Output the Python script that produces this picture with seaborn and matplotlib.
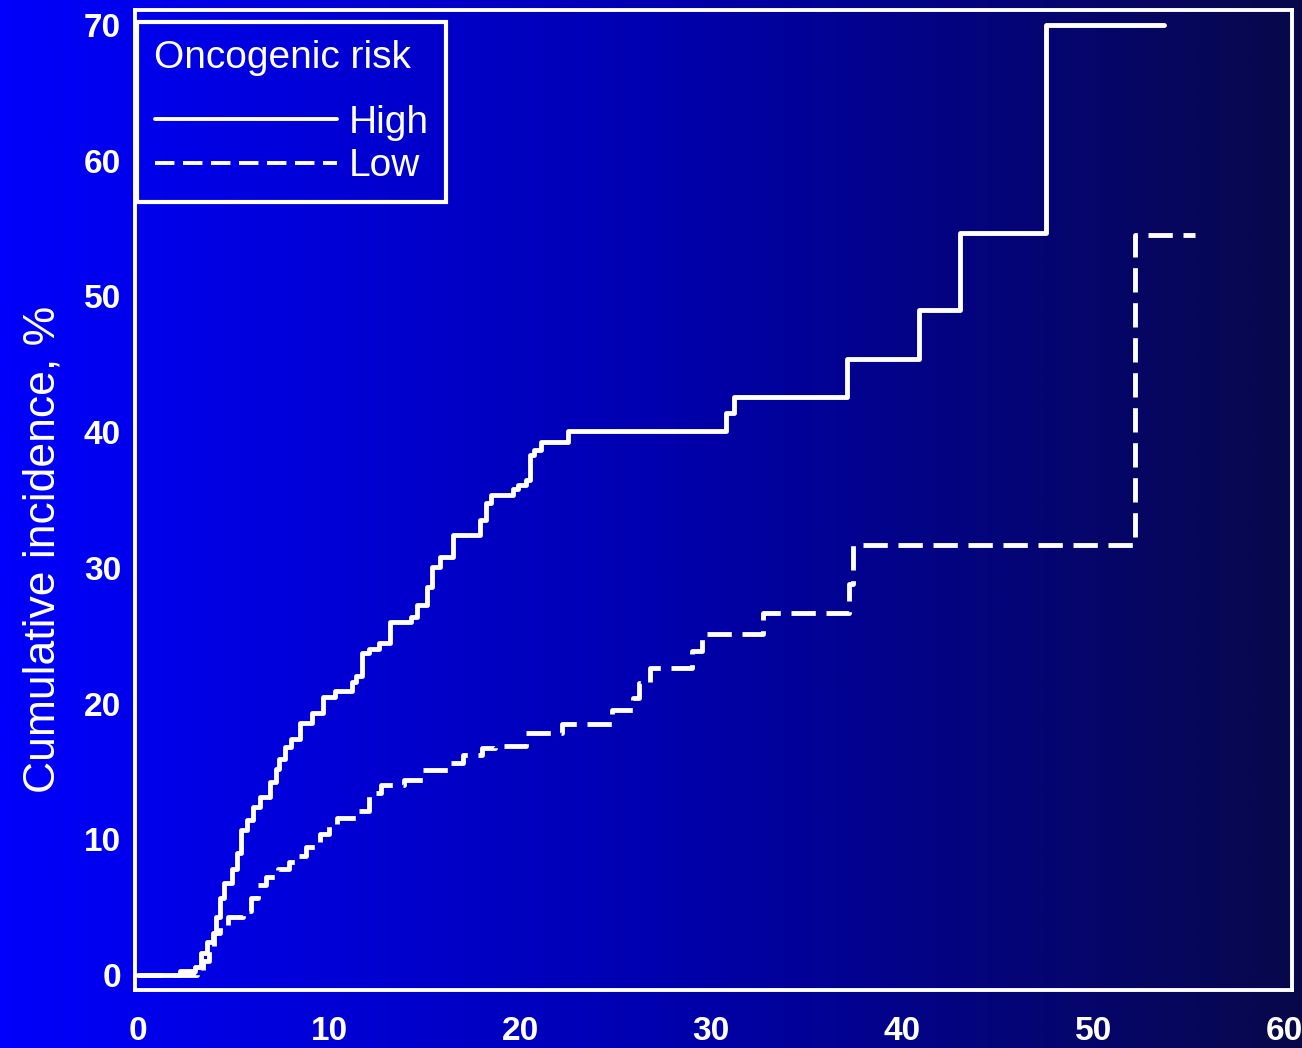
import numpy as np
import pandas as pd
import matplotlib
matplotlib.use('Agg')
import matplotlib.pyplot as plt
import seaborn as sns
from matplotlib.colors import LinearSegmentedColormap
from matplotlib.lines import Line2D
from matplotlib.ticker import MultipleLocator

# ---- data (step curves, value after each event) ----
high_time = [0, 2.2, 3.0, 3.3, 3.6, 3.9, 4.1, 4.3, 4.5, 4.9, 5.2, 5.4, 5.7, 6.0,
             6.4, 6.9, 7.2, 7.4, 7.7, 8.0, 8.5, 9.1, 9.7, 10.3, 11.2, 11.4, 11.7,
             12.1, 12.6, 13.2, 14.3, 14.6, 15.1, 15.4, 15.8, 16.5, 17.9, 18.2,
             18.5, 19.6, 19.9, 20.3, 20.5, 20.7, 21.1, 22.5, 30.8, 31.2, 37.1,
             40.9, 43.0, 47.5, 53.7]
high_inc = [0, 0.3, 0.6, 1.6, 2.4, 3.1, 4.3, 5.7, 6.8, 7.8, 9.0, 10.7, 11.4, 12.4,
            13.1, 14.2, 15.2, 15.9, 16.8, 17.4, 18.6, 19.3, 20.5, 20.9, 21.6, 22.0,
            23.7, 24.0, 24.5, 26.0, 26.4, 27.3, 28.6, 30.1, 30.8, 32.4, 33.5, 34.8,
            35.4, 35.8, 36.1, 36.5, 38.3, 38.7, 39.3, 40.1, 41.4, 42.6, 45.4,
            49.0, 54.7, 70.0, 70.0]

low_time = [0, 3.1, 3.4, 3.7, 4.0, 4.3, 4.7, 5.5, 5.9, 6.3, 6.7, 7.3, 7.9, 8.3,
            8.8, 9.5, 10.0, 10.4, 11.5, 12.1, 12.7, 13.9, 14.9, 16.3, 17.0, 18.0,
            18.7, 20.3, 22.2, 24.8, 25.9, 26.2, 26.8, 29.0, 29.5, 32.7, 37.2,
            37.4, 52.2, 55.3]
low_inc = [0, 0.3, 1.0, 2.0, 3.1, 3.6, 4.3, 4.7, 5.7, 6.6, 7.2, 7.8, 8.3, 8.8,
           9.4, 10.4, 11.0, 11.6, 12.1, 13.4, 14.0, 14.4, 15.1, 15.6, 16.2, 16.7,
           16.9, 17.8, 18.5, 19.5, 20.4, 21.5, 22.6, 23.9, 25.1, 26.7, 28.8,
           31.7, 54.5, 54.5]

groups = ['High', 'Low']
legend_title = 'Oncogenic risk'
x_ticks = [0, 10, 20, 30, 40, 50, 60]
y_ticks = [0, 10, 20, 30, 40, 50, 60, 70]

df = pd.concat([
    pd.DataFrame({'time': high_time, 'inc': high_inc, 'risk': 'High'}),
    pd.DataFrame({'time': low_time, 'inc': low_inc, 'risk': 'Low'}),
], ignore_index=True)

sns.set_theme(style='white')
plt.rcParams['font.family'] = ['Liberation Sans', 'DejaVu Sans']

W, H = 1302, 1048
fig = plt.figure(figsize=(W / 100, H / 100), dpi=100)

# blue gradient background across the whole figure
bg = fig.add_axes([0, 0, 1, 1], zorder=0)
cmap = LinearSegmentedColormap.from_list('bg', ['#0000fc', '#0000b0', '#08084a'])
bg.imshow(np.linspace(0, 1, 512)[None, :], aspect='auto', cmap=cmap,
          extent=[0, 1, 0, 1])
bg.axis('off')

left, right, top, bottom = 135, 1292, 10, 990
ax = fig.add_axes([left / W, 1 - bottom / H, (right - left) / W, (bottom - top) / H],
                  zorder=1)
ax.patch.set_alpha(0)

sns.lineplot(data=df, x='time', y='inc', style='risk', style_order=groups,
             dashes={'High': '', 'Low': (5, 2.2)}, color='white',
             drawstyle='steps-post', linewidth=3.5, estimator=None,
             legend=False, ax=ax)

ax.set_xlim(-0.16, 60.4)
ax.set_ylim(-1.1, 71.1)
ax.set_xticks(x_ticks)
ax.set_yticks(y_ticks)
ax.xaxis.set_minor_locator(MultipleLocator(5))
ax.set_xlabel('')
ax.set_ylabel('Cumulative incidence, %', color='white', fontsize=32)
ax.yaxis.set_label_coords(-0.062, 0.45)

for s in ax.spines.values():
    s.set_color('white')
    s.set_linewidth(2.8)
ax.tick_params(axis='both', which='both', colors='white', direction='out',
               width=2.2, labelsize=24)
ax.tick_params(axis='x', which='major', length=9, pad=10)
ax.tick_params(axis='x', which='minor', length=7)
ax.tick_params(axis='y', which='major', length=7, pad=3)
for lab in ax.get_xticklabels() + ax.get_yticklabels():
    lab.set_fontweight('bold')

handles = [Line2D([], [], color='white', lw=2.8),
           Line2D([], [], color='white', lw=2.8, dashes=(5, 2.2))]
leg = ax.legend(handles, groups, title=legend_title, loc='upper left',
                bbox_to_anchor=(137 / W, 1 - 22 / H), bbox_transform=fig.transFigure,
                frameon=True, fancybox=False, edgecolor='white', facecolor='none',
                framealpha=1, fontsize=28, title_fontsize=28, handlelength=4.7,
                handletextpad=0.3, labelspacing=0.2, borderpad=0.45,
                borderaxespad=0, alignment='left', labelcolor='white')
leg.get_frame().set_linewidth(3)
leg.get_title().set_color('white')
leg._legend_box.sep = 21  # extra room between title and entries

fig.savefig('out.png', dpi=100)
